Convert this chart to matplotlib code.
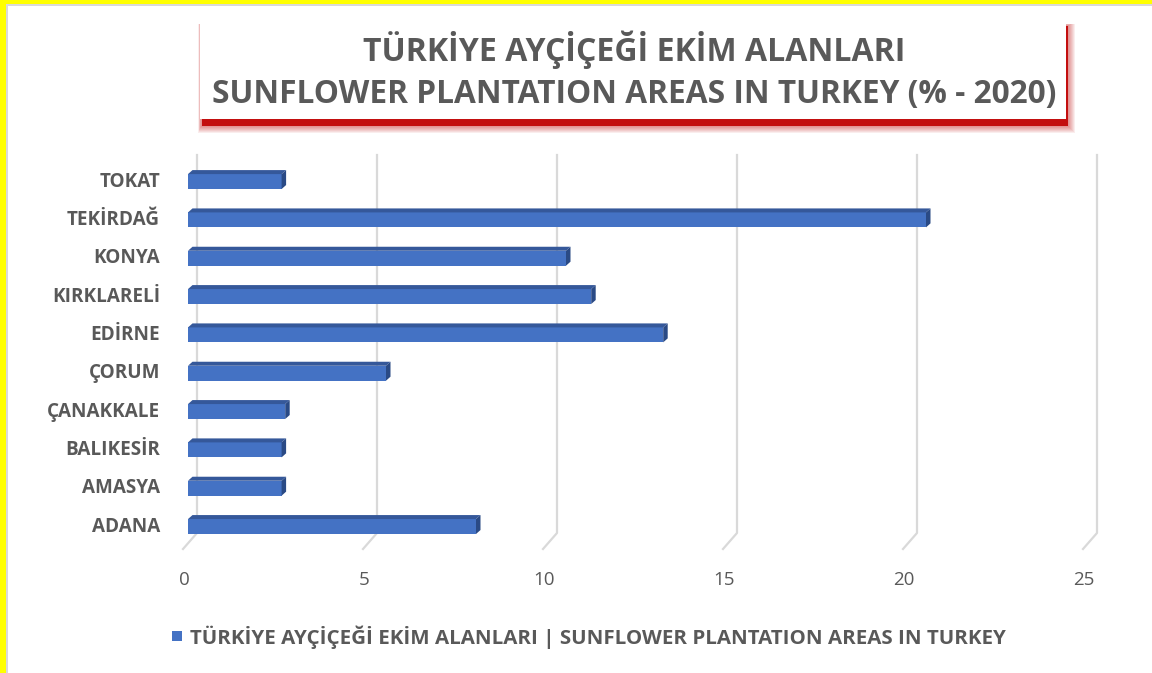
import matplotlib
matplotlib.use("Agg")
import matplotlib.pyplot as plt
from matplotlib.patches import Rectangle, Polygon
from matplotlib.transforms import IdentityTransform, offset_copy

# data, bottom to top as drawn
provinces = ["ADANA", "AMASYA", "BALIKESİR", "ÇANAKKALE", "ÇORUM",
             "EDİRNE", "KIRKLARELİ", "KONYA", "TEKİRDAĞ", "TOKAT"]
shares = [8.0, 2.6, 2.6, 2.7, 5.5, 13.2, 11.2, 10.5, 20.5, 2.6]
xticks = [0, 5, 10, 15, 20, 25]

title_tr = "TÜRKİYE AYÇİÇEĞİ EKİM ALANLARI"
title_en = "SUNFLOWER PLANTATION AREAS IN TURKEY (% - 2020)"
legend_label = "TÜRKİYE AYÇİÇEĞİ EKİM ALANLARI | SUNFLOWER PLANTATION AREAS IN TURKEY"

TXT = "#595959"
BLUE = "#4472C4"
GRID = "#d9d9d9"
FONT = "Open Sans"

W, H = 1152, 673
fig = plt.figure(figsize=(W / 100, H / 100), dpi=100)
fig.patch.set_facecolor("white")


def fbox(x0, y0, x1, y1, **kw):
    """rectangle in pixel coords measured from top-left"""
    r = Rectangle((x0 / W, 1 - y1 / H), (x1 - x0) / W, (y1 - y0) / H,
                  transform=fig.transFigure, **kw)
    fig.add_artist(r)
    return r


# yellow frame + thin grey border
fbox(0, 0, 6, H, color="yellow", lw=0, zorder=0)
fbox(0, 0, W, 4, color="yellow", lw=0, zorder=0)
fbox(6, 4, 7.8, H, color=GRID, lw=0, zorder=0)
fbox(6, 4, W, 5.8, color=GRID, lw=0, zorder=0)

# title box with blurred red shadow (mostly below/right)
for k in range(7, 0, -1):
    fbox(201 - k * 0.4, 25 - k * 0.2, 1068 + k, 126 + k,
         color="#C00000", alpha=0.07, lw=0, zorder=1)
fbox(202, 26, 1068, 126, color="#C00000", alpha=0.9, lw=0, zorder=1)
fbox(200, 22, 1066, 119, color="white", lw=0, zorder=2)

# plot area
ax = fig.add_axes([188 / W, 1 - 545.7 / H, 900 / W, 383.3 / H])
ax.set_xlim(0, 25)
ax.set_ylim(-0.5, 9.5)
ax.axis("off")

ypos = list(range(len(provinces)))
bh = 0.39
ax.barh(ypos, shares, height=bh, color=BLUE, zorder=3)

# 3d faces
dx, dy = 4.5, 4.0
for y, v in zip(ypos, shares):
    x0, yt = ax.transData.transform((0, y + bh / 2))
    x1, yb = ax.transData.transform((v, y - bh / 2))
    top = Polygon([(x0, yt), (x1, yt), (x1 + dx, yt + dy), (x0 + dx, yt + dy)],
                  closed=True, color="#35589a", lw=0,
                  transform=IdentityTransform(), clip_on=False, zorder=4)
    side = Polygon([(x1, yb), (x1, yt), (x1 + dx, yt + dy), (x1 + dx, yb + dy)],
                   closed=True, color="#2a4a85", lw=0,
                   transform=IdentityTransform(), clip_on=False, zorder=4)
    ax.add_patch(top)
    ax.add_patch(side)

# back wall gridlines with floor diagonal
for v in xticks:
    gx = ax.transData.transform((v, 0))[0] + 9
    ax.plot([gx, gx, gx - 14], [H - 155, H - 533, H - 549], color=GRID,
            lw=1.6, transform=IdentityTransform(), clip_on=False, zorder=1)
    fig.text((gx - 13) / W, 1 - 580 / H, str(v), ha="center", va="center",
             color=TXT, fontsize=13.5, family=FONT)

# category labels
lab_tr = offset_copy(ax.transData, fig, x=-28, y=0, units="dots")
labels = []
for y, name in zip(ypos, provinces):
    labels.append(ax.text(0, y, name, transform=lab_tr, ha="right", va="center",
                          color=TXT, fontsize=12, fontweight="bold", family=FONT))

# titles
t1 = fig.text(634 / W, 1 - 50 / H, title_tr, ha="center", va="center",
              color=TXT, fontsize=20, fontweight="bold", family=FONT, zorder=5)
t2 = fig.text(634 / W, 1 - 95 / H, title_en, ha="center", va="center",
              color=TXT, fontsize=20, fontweight="bold", family=FONT, zorder=5)

# legend
fbox(172, 631, 182, 641, color=BLUE, lw=0)
t3 = fig.text(190 / W, 1 - 637 / H, legend_label, ha="left", va="center",
              color=TXT, fontsize=12, fontweight="bold", family=FONT)

# squeeze wide text to the widths of the original
r = fig.canvas.get_renderer()
for t, target in [(t1, 542), (t2, 845), (t3, 810), (labels[6], 107)]:
    w = t.get_window_extent(r).width
    t.set_fontsize(t.get_fontsize() * target / w)
for t in labels:
    t.set_fontsize(labels[6].get_fontsize())

fig.savefig("out.png", dpi=100)
